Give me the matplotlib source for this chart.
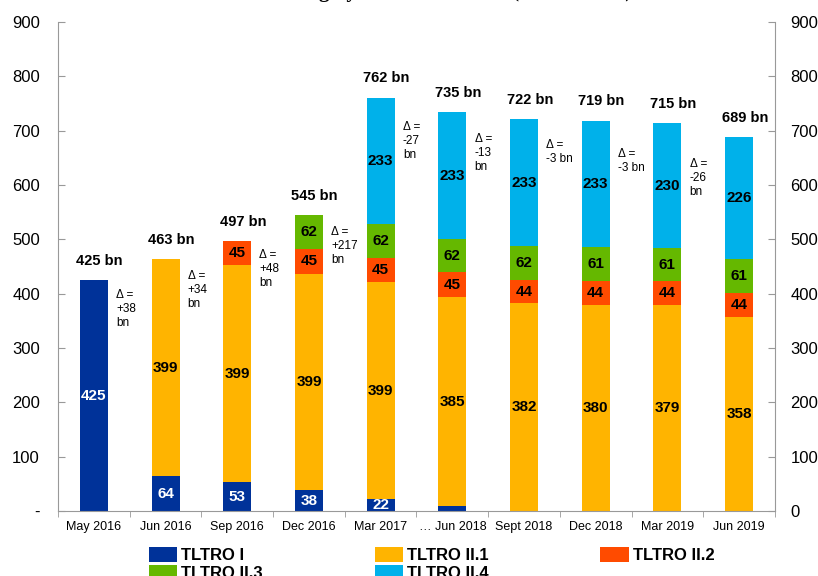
import numpy as np
import matplotlib.pyplot as plt
from matplotlib.ticker import FixedLocator

plt.rcParams['font.family'] = ['Liberation Sans', 'DejaVu Sans']

# data
categories = ['May 2016', 'Jun 2016', 'Sep 2016', 'Dec 2016', 'Mar 2017',
              '… Jun 2018', 'Sept 2018', 'Dec 2018', 'Mar 2019', 'Jun 2019']
tltro_1 = [425, 64, 53, 38, 22, 9, 0, 0, 0, 0]
tltro_21 = [0, 399, 399, 399, 399, 385, 382, 380, 379, 358]
tltro_22 = [0, 0, 45, 45, 45, 45, 44, 44, 44, 44]
tltro_23 = [0, 0, 0, 62, 62, 62, 62, 61, 61, 61]
tltro_24 = [0, 0, 0, 0, 233, 233, 233, 233, 230, 226]
totals = [425, 463, 497, 545, 762, 735, 722, 719, 715, 689]
deltas = ['+38', '+34', '+48', '+217', '-27', '-13', '-3', '-3', '-26']
delta_y = [372, 407, 445, 488, 681, 659, 661, 644, 613]  # vertical placement of the delta notes

series = [
    ('TLTRO I', tltro_1, '#003299', 'white'),
    ('TLTRO II.1', tltro_21, '#FFB400', 'black'),
    ('TLTRO II.2', tltro_22, '#FF4B00', 'black'),
    ('TLTRO II.3', tltro_23, '#65B800', 'black'),
    ('TLTRO II.4', tltro_24, '#00B1EA', 'black'),
]

fig = plt.figure(figsize=(8.18, 5.76), dpi=100)
ax = fig.add_axes([0.0709, 0.1128, 0.8765, 0.8490])

x = np.arange(len(categories))
bottom = np.zeros(len(categories))
for name, vals, col, tcol in series:
    vals = np.array(vals, dtype=float)
    ax.bar(x, vals, 0.39, bottom=bottom, color=col, label=name)
    for i, v in enumerate(vals):
        if v >= 15:
            ax.text(x[i], bottom[i] + v / 2, f'{int(v)}', ha='center', va='center',
                    fontsize=11, fontweight='bold', color=tcol)
    bottom += vals

# totals above bars
for i, t in enumerate(totals):
    ax.text(x[i] + 0.08, t + 35, f'{t} bn', ha='center', va='center',
            fontsize=10.5, fontweight='bold')

# change notes between bars
for i, d in enumerate(deltas):
    if len(d) <= 2:
        s = f'Δ =\n{d} bn'
    else:
        s = f'Δ =\n{d}\nbn'
    ax.text(x[i] + 0.31, delta_y[i], s, ha='left', va='center', fontsize=8.5,
            linespacing=1.25)

ax.set_xlim(-0.5, len(categories) - 0.5)
ax.set_ylim(0, 900)

# axes styling
for side in ['left', 'right', 'bottom']:
    ax.spines[side].set_color('#999999')
ax.spines['top'].set_visible(False)

yt = np.arange(0, 901, 100)
ax.set_yticks(yt)
ax.set_yticklabels(['-'] + [str(v) for v in yt[1:]])
ax.tick_params(axis='y', direction='in', length=5, color='#999999', labelsize=12, pad=13)

ax2 = ax.twinx()
ax2.set_ylim(0, 900)
ax2.set_yticks(yt)
ax2.set_yticklabels([str(v) for v in yt])
ax2.tick_params(axis='y', direction='in', length=5, color='#999999', labelsize=12, pad=11)
for side in ['left', 'right', 'bottom', 'top']:
    ax2.spines[side].set_visible(False)

ax.set_xticks(x)
ax.set_xticklabels(categories, fontsize=9)
ax.tick_params(axis='x', length=0, pad=7)
ax.xaxis.set_minor_locator(FixedLocator(np.arange(-0.5, len(categories), 1.0)))
ax.tick_params(axis='x', which='minor', direction='out', length=4, color='#999999')

# title, cut off by the top edge as in the source picture
fig.text(0.52, 1.006, 'Outstanding by TLTRO tranche (EUR billion)', ha='center', va='baseline',
         fontsize=15, fontweight='bold', family=['Liberation Serif', 'DejaVu Serif'])

# legend filled row by row
handles, labels = ax.get_legend_handles_labels()
order = [0, 3, 1, 4, 2]
fig.legend([handles[k] for k in order], [labels[k] for k in order], loc='upper left',
           bbox_to_anchor=(0.182, 0.0503), ncol=3,
           frameon=False, borderpad=0, borderaxespad=0, handlelength=1.7, handleheight=1.0,
           handletextpad=0.25, columnspacing=6.7, labelspacing=0.1,
           prop={'size': 12, 'weight': 'bold'})

fig.savefig('out.png', dpi=100)
